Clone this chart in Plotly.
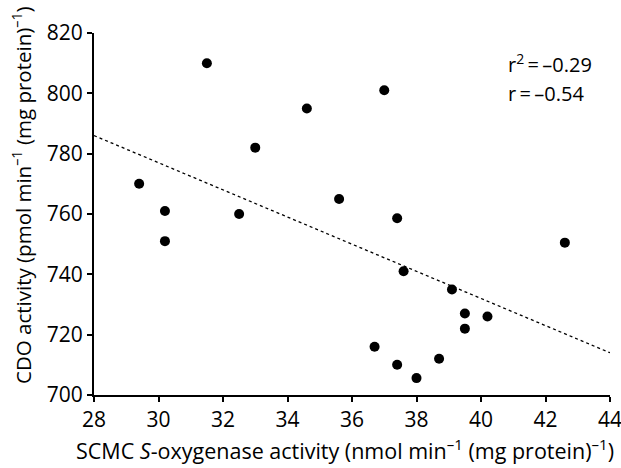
import plotly.graph_objects as go

scmc = [31.5, 34.6, 33.0, 29.4, 30.2, 32.5, 30.2, 37.0, 35.6, 37.4,
        42.6, 37.6, 39.1, 39.5, 40.2, 39.5, 36.7, 37.4, 38.7, 38.0]
cdo = [810, 795, 782, 770, 761, 760, 751, 801, 765, 758.6,
       750.5, 741, 735, 727, 726, 722, 716, 710, 712, 705.6]
trend_x = [28, 44]
trend_y = [786, 714]
x_ticks = [28, 30, 32, 34, 36, 38, 40, 42, 44]
y_ticks = [700, 720, 740, 760, 780, 800, 820]

FONT = "Open Sans"
L, R, T, B = 94, 11, 33, 73
PW, PH = 621 - L - R, 468 - T - B

def px(x):
    return (x - L) / PW

def py(y):
    return (468 - B - y) / PH

fig = go.Figure()
fig.add_trace(go.Scatter(x=trend_x, y=trend_y, mode="lines",
                         line=dict(color="black", width=1.3, dash="dot"),
                         showlegend=False, hoverinfo="skip"))
fig.add_trace(go.Scatter(x=scmc, y=cdo, mode="markers",
                         marker=dict(color="black", size=10),
                         showlegend=False))

fig.add_annotation(x=px(506), y=py(63), xref="paper", yref="paper", xanchor="left",
                   yanchor="middle", showarrow=False,
                   text="r<sup>2</sup>\u2009=\u2009–0.29", font=dict(family=FONT, size=20, color="black"))
fig.add_annotation(x=px(506), y=py(93), xref="paper", yref="paper", xanchor="left",
                   yanchor="middle", showarrow=False,
                   text="r\u2009=\u2009–0.54", font=dict(family=FONT, size=20, color="black"))

fig.add_annotation(x=px(345), y=py(467), xref="paper", yref="paper", xanchor="center",
                   yanchor="bottom", showarrow=False,
                   text="SCMC <i>S</i>-oxygenase activity (nmol min<sup>–1</sup> (mg protein)<sup>–1</sup>)",
                   font=dict(family=FONT, size=21.5, color="black"))
fig.add_annotation(x=px(22), y=py(195), xref="paper", yref="paper", xanchor="center",
                   yanchor="middle", showarrow=False, textangle=-90,
                   text="CDO activity (pmol min<sup>–1</sup> (mg protein)<sup>–1</sup>)",
                   font=dict(family=FONT, size=20.5, color="black"))

fig.update_layout(
    width=621, height=468,
    margin=dict(l=L, r=R, t=T, b=B),
    plot_bgcolor="white", paper_bgcolor="white",
    font=dict(family=FONT, size=21, color="black"),
    xaxis=dict(range=[28, 44], tickvals=x_ticks, showgrid=False, zeroline=False,
               showline=True, linecolor="black", linewidth=2, automargin=False,
               ticks="outside", ticklen=5, tickwidth=1.5, tickcolor="black",
               ticklabeloverflow="allow", tickfont=dict(size=21)),
    yaxis=dict(range=[700, 820], tickvals=y_ticks, showgrid=False, zeroline=False,
               showline=True, linecolor="black", linewidth=2, automargin=False,
               ticks="outside", ticklen=5, tickwidth=1.5, tickcolor="black",
               tickfont=dict(size=21)),
)

fig.write_html("out.html", config={"displayModeBar": False},
               post_script="document.body.style.margin='0';document.body.style.overflow='hidden';")
